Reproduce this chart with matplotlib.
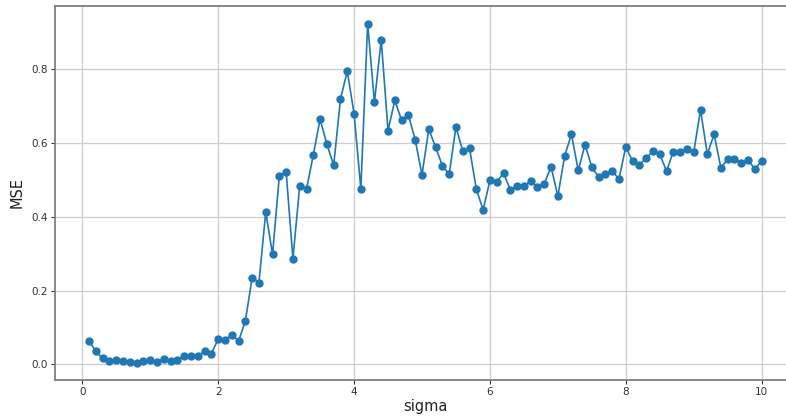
import numpy as np
import matplotlib
matplotlib.use('Agg')
import matplotlib.pyplot as plt

# sigma values swept in the experiment
sigma = [0.1, 0.2, 0.3, 0.4, 0.5, 0.6, 0.7, 0.8, 0.9, 1.0,
         1.1, 1.2, 1.3, 1.4, 1.5, 1.6, 1.7, 1.8, 1.9, 2.0,
         2.1, 2.2, 2.3, 2.4, 2.5, 2.6, 2.7, 2.8, 2.9, 3.0,
         3.1, 3.2, 3.3, 3.4, 3.5, 3.6, 3.7, 3.8, 3.9, 4.0,
         4.1, 4.2, 4.3, 4.4, 4.5, 4.6, 4.7, 4.8, 4.9, 5.0,
         5.1, 5.2, 5.3, 5.4, 5.5, 5.6, 5.7, 5.8, 5.9, 6.0,
         6.1, 6.2, 6.3, 6.4, 6.5, 6.6, 6.7, 6.8, 6.9, 7.0,
         7.1, 7.2, 7.3, 7.4, 7.5, 7.6, 7.7, 7.8, 7.9, 8.0,
         8.1, 8.2, 8.3, 8.4, 8.5, 8.6, 8.7, 8.8, 8.9, 9.0,
         9.1, 9.2, 9.3, 9.4, 9.5, 9.6, 9.7, 9.8, 9.9, 10.0]

# mean squared error for each sigma
mse = [0.064, 0.035, 0.016, 0.010, 0.012, 0.008, 0.006, 0.004, 0.010, 0.012,
       0.007, 0.015, 0.009, 0.012, 0.022, 0.022, 0.024, 0.035, 0.029, 0.069,
       0.066, 0.081, 0.063, 0.118, 0.235, 0.222, 0.413, 0.298, 0.511, 0.523,
       0.286, 0.484, 0.475, 0.568, 0.665, 0.597, 0.540, 0.719, 0.795, 0.680,
       0.476, 0.924, 0.711, 0.880, 0.634, 0.716, 0.662, 0.676, 0.609, 0.514,
       0.638, 0.589, 0.539, 0.515, 0.644, 0.578, 0.586, 0.475, 0.419, 0.499,
       0.495, 0.518, 0.474, 0.483, 0.483, 0.497, 0.481, 0.490, 0.536, 0.456,
       0.565, 0.624, 0.526, 0.596, 0.535, 0.508, 0.517, 0.524, 0.503, 0.590,
       0.551, 0.541, 0.559, 0.578, 0.570, 0.524, 0.577, 0.577, 0.583, 0.575,
       0.690, 0.570, 0.624, 0.533, 0.556, 0.556, 0.547, 0.555, 0.529, 0.552]

fig = plt.figure(figsize=(7.86, 4.17), dpi=100)
ax = fig.add_axes([0.0706, 0.0899, 0.9412, 0.895])

ax.plot(sigma, mse, marker='o', color='#1f77b4', lw=1.2, markersize=5)

ax.set_xlim(-0.395, 10.495)
ax.set_ylim(-0.041, 0.971)
ax.set_xticks([0, 2, 4, 6, 8, 10])
ax.set_yticks([0.0, 0.2, 0.4, 0.6, 0.8])

ax.grid(True, color='#cccccc', lw=0.9)
ax.set_axisbelow(True)
for s in ax.spines.values():
    s.set_color('#7f7f7f')
    s.set_linewidth(1.3)
ax.tick_params(labelsize=7.5, colors='#333333', length=3, width=0.8, pad=2.5)

ax.set_xlabel('sigma', fontsize=10.5, color='#222222', labelpad=1)
ax.set_ylabel('MSE', fontsize=10.5, color='#222222', labelpad=5)

fig.savefig('out.png', dpi=100)
